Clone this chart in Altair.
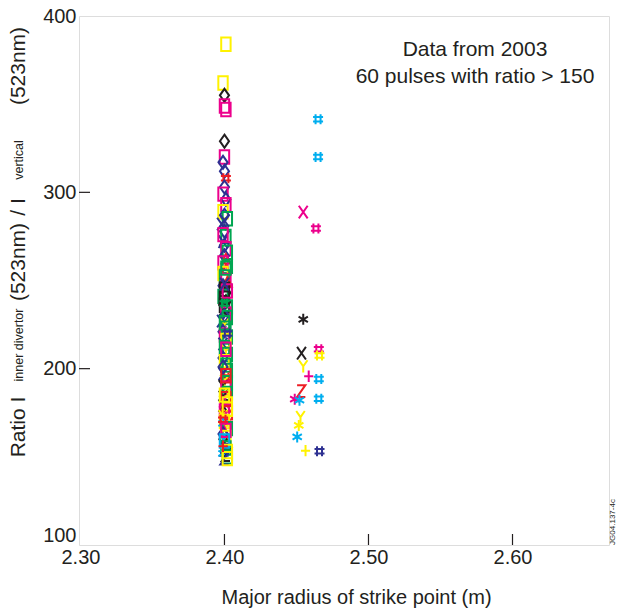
import altair as alt
import pandas as pd

# ---------------- data ----------------
# Cluster near R = 2.40 m
inner_radius = [
    2.401, 2.399, 2.400, 2.400, 2.401, 2.400, 2.400, 2.399, 2.400, 2.401,
    2.400, 2.399, 2.401, 2.401, 2.399, 2.400, 2.402, 2.398, 2.400, 2.401,
    2.399, 2.400, 2.401, 2.402, 2.400, 2.401, 2.399, 2.402, 2.401, 2.399,
    2.400, 2.401, 2.402, 2.399, 2.400, 2.401, 2.399, 2.400, 2.401, 2.400,
    2.402, 2.399, 2.401, 2.400, 2.402, 2.398, 2.400, 2.401, 2.399, 2.400,
    2.402, 2.401, 2.399, 2.400, 2.401, 2.402, 2.399, 2.400, 2.401, 2.400,
    2.402, 2.399, 2.401, 2.400, 2.402, 2.399, 2.401, 2.400, 2.402, 2.399,
    2.401, 2.400, 2.402, 2.399, 2.401, 2.400, 2.402, 2.399, 2.401, 2.400,
    2.399, 2.401, 2.402, 2.400, 2.399, 2.401, 2.400, 2.402, 2.399, 2.401,
    2.400, 2.399, 2.401, 2.402, 2.400, 2.402,
    2.402, 2.400, 2.401, 2.399, 2.401, 2.400, 2.402, 2.399, 2.401, 2.400,
    2.402, 2.399, 2.400, 2.402, 2.400, 2.401, 2.399, 2.400,
]
inner_ratio = [
    384, 362, 355, 349, 347, 329, 320, 317, 312, 308,
    303, 299, 296, 293, 289, 287, 285, 282, 278, 275,
    272, 270, 268, 266, 264, 262, 260, 258, 256, 254,
    252, 250, 249, 247, 245, 243, 241, 240, 238, 236,
    235, 233, 231, 230, 229, 227, 225, 223, 221, 219,
    218, 216, 214, 212, 210, 208, 206, 204, 202, 200,
    199, 197, 195, 193, 192, 190, 189, 187, 186, 184,
    183, 181, 180, 179, 178, 176, 175, 173, 172, 170,
    169, 167, 166, 164, 163, 161, 160, 158, 157, 155,
    154, 152, 151, 150, 149, 149,
    244, 237, 211, 201, 196, 185, 177, 171, 165, 159,
    153, 156, 226, 220, 248, 257, 276, 284,
]
inner_marker = [
    "square", "square", "diamond", "square", "square", "diamond", "square", "diamond", "diamond", "hash",
    "diamond", "square", "diamond", "square", "square", "diamond", "square", "X", "diamond", "square",
    "X", "diamond", "square", "square", "diamond", "triangle", "square", "square", "triangle", "square",
    "square", "square", "triangle", "diamond", "square", "diamond", "square", "square", "diamond", "square",
    "square", "X", "square", "diamond", "square", "X", "Y", "square", "diamond", "square",
    "square", "square", "X", "square", "Y", "square", "diamond", "square", "square", "Y",
    "square", "X", "hash", "Y", "square", "Y", "square", "triangle", "square", "Y",
    "square", "triangle", "square", "X", "triangle", "square", "square", "Y", "triangle", "square",
    "star", "Y", "square", "triangle", "diamond", "square", "star", "triangle", "Y", "square",
    "Z", "star", "Z", "square", "Z", "square",
    "square", "hash", "square", "diamond", "square", "square", "square", "hash", "square", "square",
    "square", "plus", "square", "hash", "X", "square", "square", "X",
]
inner_colour = [
    "yellow", "yellow", "black", "magenta", "magenta", "black", "magenta", "navy", "navy", "red",
    "navy", "magenta", "navy", "magenta", "yellow", "navy", "green", "navy", "navy", "green",
    "navy", "navy", "magenta", "green", "navy", "red", "magenta", "green", "red", "yellow",
    "green", "magenta", "red", "navy", "black", "black", "green", "black", "black", "black",
    "green", "black", "magenta", "navy", "green", "navy", "yellow", "green", "navy", "magenta",
    "green", "yellow", "navy", "green", "yellow", "green", "navy", "yellow", "green", "yellow",
    "green", "navy", "red", "yellow", "green", "black", "magenta", "yellow", "green", "black",
    "red", "magenta", "yellow", "black", "red", "magenta", "red", "yellow", "magenta", "yellow",
    "cyan", "yellow", "green", "magenta", "navy", "yellow", "cyan", "yellow", "black", "green",
    "navy", "cyan", "black", "green", "navy", "yellow",
    "magenta", "green", "magenta", "navy", "red", "yellow", "yellow", "red", "magenta", "cyan",
    "yellow", "red", "green", "navy", "navy", "green", "magenta", "navy",
]

# Scattered points between R = 2.445 and 2.47 m
outer_radius = [2.465, 2.465, 2.4547, 2.4635, 2.4547, 2.4535, 2.4655, 2.466, 2.4547, 2.4585,
                2.4655, 2.4533, 2.4488, 2.4521, 2.4655, 2.4528, 2.4516, 2.4505, 2.4563, 2.466]
outer_ratio = [341.5, 320, 288.8, 279.5, 228, 208.8, 211, 207.5, 201.3, 195.7,
               194.2, 187.3, 182.7, 182.1, 183, 172.5, 167.8, 161.3, 153.5, 153.2]
outer_marker = ["hash", "hash", "X", "hash", "star", "X", "hash", "hash", "Y", "plus",
                "hash", "Z", "star", "star", "hash", "Y", "star", "star", "plus", "hash"]
outer_colour = ["cyan", "cyan", "magenta", "magenta", "black", "black", "magenta", "yellow", "yellow", "magenta",
                "cyan", "red", "magenta", "cyan", "cyan", "yellow", "yellow", "cyan", "yellow", "navy"]

x_ticks = [2.30, 2.40, 2.50, 2.60]
y_ticks = [100, 200, 300, 400]
note_lines = ["Data from 2003", "60 pulses with ratio > 150"]
y_title_parts = ["Ratio I", "inner divertor", "(523nm)", "/ I", "vertical", "(523nm)"]
figure_id = "JG04.137-4c"

# ---------------- styling ----------------
FONT = "Liberation Sans"
INK = "#231f20"
colour_names = ["yellow", "magenta", "black", "navy", "red", "green", "cyan"]
colour_hex = ["#fff200", "#ec008c", "#231f20", "#2e3192", "#ed1c24", "#00a651", "#00aeef"]
marker_names = ["square", "diamond", "X", "Y", "Z", "plus", "star", "triangle", "hash"]
marker_paths = [
    "M-0.7,-1H0.7V1H-0.7Z",
    "M0,-1L0.7,0L0,1L-0.7,0Z",
    "M-0.7,-1L0.7,1M-0.7,1L0.7,-1",
    "M-0.7,-1L0,0L0.7,-1M0,0V1",
    "M-0.7,-1H0.7L-0.7,1H0.7",
    "M-0.8,0H0.8M0,-1V1",
    "M0,-1V1M-0.85,-0.5L0.85,0.5M-0.85,0.5L0.85,-0.5",
    "M0,-1L0.85,0.8H-0.85Z",
    "M-0.5,-1V1M0.5,-1V1M-1,-0.45H1M-1,0.45H1",
]
marker_sizes = [180, 100, 460, 460, 200, 300, 300, 190, 50]

W, H = 530, 529

df = pd.DataFrame({
    "radius": inner_radius + outer_radius,
    "ratio": inner_ratio + outer_ratio,
    "marker": inner_marker + outer_marker,
    "colour": inner_colour + outer_colour,
})

xscale = alt.Scale(domain=[2.299, 2.667], nice=False, zero=False)
yscale = alt.Scale(domain=[100, 400], nice=False, zero=False)

xaxis = alt.Axis(values=x_ticks, format=".2f", ticks=False, domain=False, grid=False,
                 labelFont=FONT, labelFontSize=20, labelColor=INK, labelPadding=2,
                 title="Major radius of strike point (m)", titleFont=FONT, titleFontSize=20,
                 titleFontWeight="normal", titleColor=INK, titleX=277, titleY=58,
                 titleBaseline="alphabetic")
yaxis = alt.Axis(values=y_ticks, format="d", ticks=False, domain=False, grid=False,
                 labelFont=FONT, labelFontSize=20, labelColor=INK, labelPadding=3,
                 labelBaseline={"expr": "datum.value == 100 ? 'bottom' : 'middle'"},
                 title=None)

points = alt.Chart(df).mark_point(filled=False, strokeWidth=2.0, opacity=1).encode(
    x=alt.X("radius:Q", scale=xscale, axis=xaxis),
    y=alt.Y("ratio:Q", scale=yscale, axis=yaxis),
    color=alt.Color("colour:N", scale=alt.Scale(domain=colour_names, range=colour_hex), legend=None),
    shape=alt.Shape("marker:N", scale=alt.Scale(domain=marker_names, range=marker_paths), legend=None),
    size=alt.Size("marker:O", scale=alt.Scale(domain=marker_names, range=marker_sizes), legend=None),
)

xt = pd.DataFrame({"tick": [t for t in x_ticks if 2.30 < t]})
yt = pd.DataFrame({"tick": [t for t in y_ticks if 100 < t < 400]})

xtick_rules = alt.Chart(xt).mark_rule(color=INK, strokeWidth=1.2).encode(
    x=alt.X("tick:Q", scale=xscale, axis=xaxis),
    y=alt.value(H), y2=alt.value(H - 11),
)
ytick_rules = alt.Chart(yt).mark_rule(color=INK, strokeWidth=1.2).encode(
    y=alt.Y("tick:Q", scale=yscale, axis=yaxis),
    x=alt.value(0), x2=alt.value(11),
)

layers = [points, xtick_rules, ytick_rules]

# annotation in the upper right
for line, ypos in zip(note_lines, [34, 61]):
    layers.append(
        alt.Chart(pd.DataFrame({"t": [line]})).mark_text(
            font=FONT, fontSize=21, color=INK, align="center", baseline="middle"
        ).encode(text="t:N", x=alt.value(396), y=alt.value(ypos))
    )

# y-axis title made of pieces (large and small text), rotated
part_sizes = [21, 12.5, 21, 21, 12.5, 21]
part_y = [411, 329, 246, 191, 144, 50]
for part, fs, ypos in zip(y_title_parts, part_sizes, part_y):
    layers.append(
        alt.Chart(pd.DataFrame({"t": [part]})).mark_text(
            font=FONT, fontSize=fs, color=INK, align="center", baseline="middle", angle=270
        ).encode(text="t:N", x=alt.value(-60), y=alt.value(ypos))
    )

# figure id
layers.append(
    alt.Chart(pd.DataFrame({"t": [figure_id]})).mark_text(
        font=FONT, fontSize=8, color=INK, align="center", baseline="middle", angle=270
    ).encode(text="t:N", x=alt.value(534), y=alt.value(506))
)

chart = alt.layer(*layers).properties(
    width=W, height=H,
    autosize=alt.AutoSizeParams(type="none"),
    padding={"left": 79, "top": 16, "right": 9, "bottom": 70},
).configure_view(stroke=INK, strokeWidth=1.2).configure(background="white")

chart.save("out.html", embed_options={"renderer": "svg", "actions": False})
